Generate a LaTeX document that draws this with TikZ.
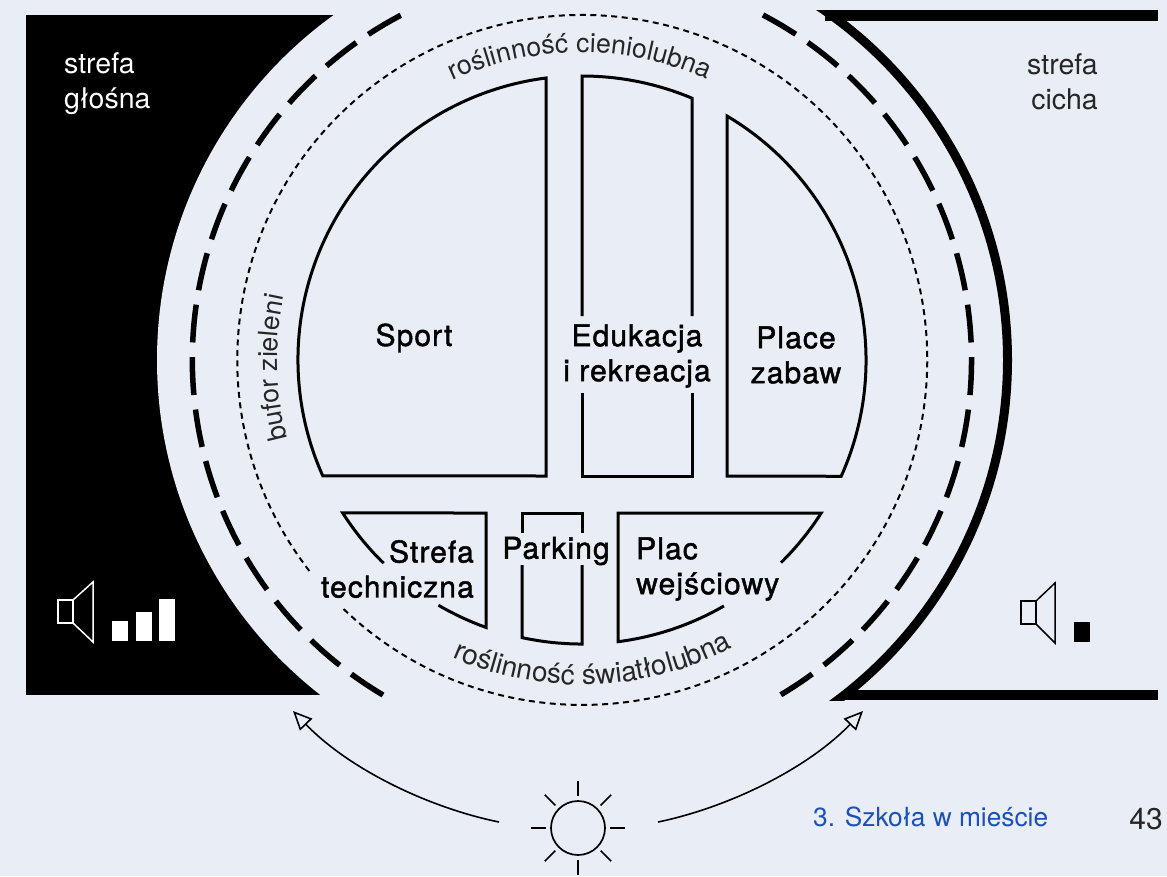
\documentclass[tikz,border=0pt]{standalone}
\usepackage{fontspec}
\usepackage{xcolor}
\usetikzlibrary{arrows.meta,decorations.text}
\setmainfont{TeX Gyre Heros}
\newfontfamily\medfont[FakeBold=1.5,LetterSpace=3.6]{TeX Gyre Heros}
\definecolor{bgpage}{HTML}{E9EDF5}
\definecolor{footblue}{HTML}{1B50B8}
\newcommand{\lbl}{\fontsize{26.7}{32}\selectfont\color{black!85}}
\newcommand{\lblb}{\fontsize{28}{32}\selectfont\color{black!85}}

\begin{document}
\begin{tikzpicture}[
    x=1pt, y=-1pt,
    zone/.style={draw, line width=3pt},
    zonelabel/.style={font={\medfont\fontsize{30}{35}\selectfont}, align=center, inner sep=0pt},
    sidelabel/.style={font={\fontsize{28.5}{35}\selectfont}, inner sep=0pt},
    sunarrow/.style={line width=1.6pt, -{Triangle[open,length=19pt,width=17pt]}},
    ray/.style={line width=1.7pt},
    speaker/.style={line width=1.5pt, line join=miter}
]

\useasboundingbox (0,0) rectangle (1167,876);
\fill[bgpage] (0,0) rectangle (1167,876);
\coordinate (c) at (582,360);

% strefa glosna
\fill[black] (26,15) rectangle (420,695);
\fill[bgpage] (c) circle (425);

% strefa cicha
\begin{scope}
    \clip (800,10) rectangle (1158,700);
    \draw[line width=9pt] (c) circle (425.5);
\end{scope}
\fill[black] (825,10) rectangle (1158,20.5);
\fill[black] (845,690) rectangle (1158,700);

% bufor
\draw[line width=5.5pt, dash pattern=on 38pt off 14.6pt] (383,695) arc[start angle=120.7, end angle=242.3, radius=389.5];
\draw[line width=5.5pt, dash pattern=on 38pt off 14.6pt] (763,15) arc[start angle=-62.3, end angle=59.3, radius=389.5];
\draw[line width=2pt, dash pattern=on 6pt off 4.5pt] (309.3,570.9) arc[start angle=142.3, end angle=494.5, radius=345];

% strefy
\draw[zone] (546,476) -- (546,78) arc[start angle=262.73, end angle=155.87, radius=284] -- cycle;
\draw[zone] (582,316) -- (582,76) arc[start angle=270, end angle=292.8, radius=284] -- (692,316);
\draw[zone] (692,393) -- (692,476) -- (582,476) -- (582,393);
\draw[zone] (727,476) -- (727,116) arc[start angle=300.7, end angle=384.13, radius=284] -- cycle;
\draw[zone] (383.6,563.2) arc[start angle=134.3, end angle=147.4, radius=284] -- (486,513) -- (486,627.4) arc[start angle=109.7, end angle=120.3, radius=284];
\draw[zone] (522,533) -- (522,513) -- (582,513) -- (582,533);
\draw[zone] (522,565) -- (522,637.6) arc[start angle=102.2, end angle=90, radius=284] -- (582,565);
\draw[zone] (781,562.6) arc[start angle=45.5, end angle=32.6, radius=284] -- (618,513) -- (618,641.7) arc[start angle=82.7, end angle=60, radius=284];

\node[zonelabel] (sport) at (414,338) {Sport};
\node[zonelabel] (edukacja) at (637,356) {Edukacja\\i rekreacja};
\node[zonelabel] (place) at (796,355) {Place\\zabaw};
\node[zonelabel, align=right, anchor=east] (strefa) at (474,569) {Strefa\\techniczna};
\node[zonelabel] (parking) at (556,551) {Parking};
\node[zonelabel, align=left, anchor=west] (plac) at (636,569) {Plac\\wejściowy};

% opisy zieleni
\path[decorate, decoration={text along path, text align=center, text={|\lbl|roślinność cieniolubna}}]
    (448.6,82.5) arc[start angle=244.4, end angle=295.1, radius=307];
\path[decorate, decoration={text along path, text align=center, text={|\lblb|roślinność światłolubna}}]
    (453,658) arc[start angle=113.4, end angle=62.6, radius=325];
\path[decorate, decoration={text along path, text align=center, text={|\lbl|bufor zieleni}}]
    (288.3,441.9) arc[start angle=164.4, end angle=192.7, radius=305];

\node[sidelabel, white, align=left, anchor=west] (glosna) at (64,84) {strefa\\głośna};
\node[sidelabel, black!85, align=right, anchor=east] (cicha) at (1098,82) {strefa\\cicha};

% glosniki
\draw[speaker, white] (58,600) rectangle (73,623);
\draw[speaker, white] (73,600) -- (93,582) -- (93,642) -- (73,623);
\fill[white] (112,621) rectangle (128,641);
\fill[white] (136,612) rectangle (152,641);
\fill[white] (159,599) rectangle (175,641);
\draw[speaker] (1021,601) rectangle (1036,624);
\draw[speaker] (1036,601) -- (1055,583) -- (1055,643) -- (1036,624);
\fill[black] (1074,622) rectangle (1090,642);

% slonce
\node[circle, draw, line width=1.7pt, minimum size=54pt, inner sep=0pt] (sun) at (578,828) {};
\foreach \a in {0,45,...,315}
    \draw[ray] (sun.center) ++(\a:32) -- ++(\a:15);
\coordinate (sunleft) at (499,822);
\coordinate (sunright) at (658,822);
\coordinate (tipleft) at (293,711);
\coordinate (tipright) at (863,711);
\draw[sunarrow] (sunleft) .. controls (430,808) and (350,770) .. (tipleft);
\draw[sunarrow] (sunright) .. controls (726,808) and (806,770) .. (tipright);

\node[font={\fontsize{26.3}{32}\selectfont}, text=footblue, anchor=base west, inner sep=0pt] (chapter) at (813,826) {3. Szkoła w mieście};
\node[font={\fontsize{30}{36}\selectfont}, text=black!85, anchor=base east, inner sep=0pt] (pagenum) at (1163,829) {43};

\end{tikzpicture}
\end{document}
